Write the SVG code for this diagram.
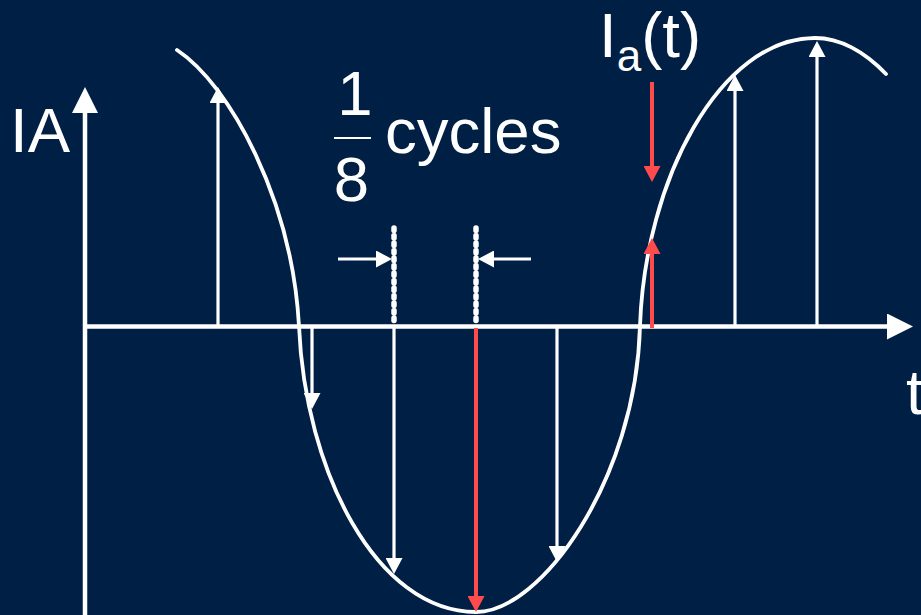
<svg xmlns="http://www.w3.org/2000/svg" width="921" height="615" viewBox="0 0 921 615">
<style>
.txt{font-family:"Liberation Sans",Arial,sans-serif;fill:#fff;font-size:63.5px}
.curve{fill:none;stroke:#fff;stroke-width:3.8;stroke-linecap:round}
.axis{stroke:#fff;stroke-width:4.5;fill:none}
.w{stroke:#fff;stroke-width:3.2;marker-end:url(#wh)}
.r{stroke:#FF4B4B;stroke-width:4;marker-end:url(#rh)}
.dot{stroke:#fff;stroke-width:5.5;stroke-linecap:round;stroke-dasharray:2.5 5}
</style>
<defs>
<marker id="wh" markerUnits="userSpaceOnUse" markerWidth="17" markerHeight="17" refX="5" refY="8.5" orient="auto">
<path d="M0,0 L16,8.5 L0,17 z" fill="#fff"/>
</marker>
<marker id="rh" markerUnits="userSpaceOnUse" markerWidth="17" markerHeight="17" refX="5" refY="8.5" orient="auto">
<path d="M0,0 L16,8.5 L0,17 z" fill="#FF4B4B"/>
</marker>
<marker id="ah" markerUnits="userSpaceOnUse" markerWidth="26" markerHeight="26" refX="8" refY="13" orient="auto">
<path d="M0,0 L26,13 L0,26 z" fill="#fff"/>
</marker>
</defs>
<rect width="921" height="615" fill="#001F45"/>
<g id="axes">
<line class="axis" x1="83" y1="326.5" x2="895" y2="326.5" marker-end="url(#ah)"/>
<line class="axis" x1="85" y1="615" x2="85" y2="105" marker-end="url(#ah)"/>
</g>
<g id="wave">
<path class="curve" d="M177,50 C230,85 292,200 299,326 C305,470 376,612 476,612 C541,612 636,480 640,326 C645,180 720,38 815,38 C840,38 865,52 886,74"/>
</g>
<g id="connectors">
<line class="w" x1="218" y1="326" x2="218" y2="98"/>
<line class="w" x1="312" y1="326" x2="312" y2="398"/>
<line class="w" x1="394" y1="326" x2="394" y2="563"/>
<line class="w" x1="557" y1="326" x2="557" y2="551"/>
<line class="w" x1="735" y1="326" x2="735" y2="86"/>
<line class="w" x1="817" y1="326" x2="817" y2="52"/>
<line class="r" x1="476" y1="328" x2="476" y2="601"/>
<line class="r" x1="652" y1="82" x2="652" y2="171"/>
<line class="r" x1="652" y1="328" x2="652" y2="249"/>
<line class="w" x1="338" y1="259" x2="381" y2="259"/>
<line class="w" x1="531" y1="259" x2="489" y2="259"/>
</g>
<g id="markers-dotted">
<line class="dot" x1="394" y1="228" x2="394" y2="322"/>
<line class="dot" x1="476" y1="228" x2="476" y2="322"/>
</g>
<g id="labels">
<text class="txt" x="10" y="152">IA</text>
<text class="txt" x="355" y="115" text-anchor="middle">1</text>
<line x1="334" y1="138" x2="371" y2="138" stroke="#fff" stroke-width="2"/>
<text class="txt" x="351.5" y="201" text-anchor="middle">8</text>
<text class="txt" x="385" y="153">cycles</text>
<text class="txt" x="599" y="57">I<tspan font-size="44" dy="14">a</tspan><tspan dy="-14">(t)</tspan></text>
<text class="txt" x="906" y="414">t</text>
</g>
</svg>
